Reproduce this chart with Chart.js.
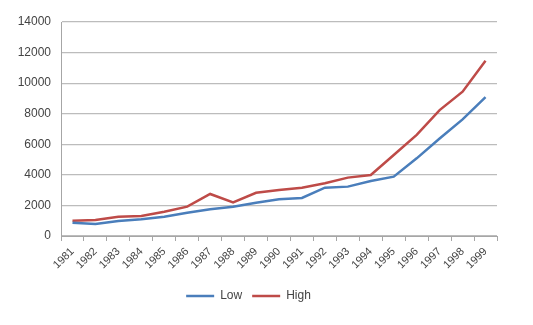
<!DOCTYPE html>
<html>
<head>
<meta charset="utf-8">
<script src="https://cdn.jsdelivr.net/npm/chart.js@4"></script>
<style>
  html, body { margin: 0; padding: 0; background: #fff; }
  #wrap { width: 533px; height: 325px; }
</style>
</head>
<body>
<div id="wrap"><canvas id="chart" width="533" height="325"></canvas></div>
<script>
// years on the x axis
const years = ['1981', '1982', '1983', '1984', '1985', '1986', '1987', '1988', '1989', '1990',
               '1991', '1992', '1993', '1994', '1995', '1996', '1997', '1998', '1999'];

// values
const lowValues  = [870, 790, 980, 1090, 1260, 1520, 1750, 1920, 2180, 2400,
                    2490, 3160, 3230, 3600, 3880, 5080, 6380, 7630, 9080];
const highValues = [1000, 1050, 1260, 1310, 1590, 1920, 2750, 2200, 2830, 3010,
                    3160, 3450, 3820, 3990, 5300, 6610, 8240, 9440, 11470];

const yMax = 14000;
const yStep = 2000;

document.addEventListener("DOMContentLoaded", function () {
    const ctx = document.getElementById('chart').getContext('2d');
    const fontFamily = 'Liberation Sans, Arial, sans-serif';

    const lineOpts = {
        borderWidth: 2.5,
        pointRadius: 0,
        tension: 0,
        fill: false
    };

    new Chart(ctx, {
        type: 'line',
        data: {
            labels: years,
            datasets: [
                { label: 'Low', data: lowValues, borderColor: '#4a7ebb', backgroundColor: '#4a7ebb', ...lineOpts },
                { label: 'High', data: highValues, borderColor: '#be4b48', backgroundColor: '#be4b48', ...lineOpts }
            ]
        },
        options: {
            responsive: false,
            animation: false,
            layout: { padding: { left: 0, right: 36, top: 22, bottom: 13 } },
            plugins: {
                tooltip: { enabled: false },
                legend: {
                    position: 'bottom',
                    labels: {
                        usePointStyle: true,
                        pointStyle: 'line',
                        pointStyleWidth: 28,
                        color: '#444',
                        font: { family: fontFamily, size: 12 },
                        padding: 10
                    }
                }
            },
            scales: {
                x: {
                    offset: true,
                    afterFit: function (axis) { axis.height = 44; },
                    grid: {
                        offset: true,
                        drawOnChartArea: false,
                        drawTicks: true,
                        tickLength: 5,
                        color: '#a6a6a6'
                    },
                    border: { color: '#a6a6a6', width: 1 },
                    ticks: {
                        minRotation: 45,
                        maxRotation: 45,
                        autoSkip: false,
                        color: '#444',
                        padding: 4,
                        font: { family: fontFamily, size: 11 }
                    }
                },
                y: {
                    min: 0,
                    max: yMax,
                    afterFit: function (axis) { axis.width = 61; },
                    grid: {
                        color: '#bcbcbc',
                        lineWidth: 1.2,
                        drawTicks: false
                    },
                    border: { color: '#a6a6a6', width: 1 },
                    ticks: {
                        stepSize: yStep,
                        padding: 10,
                        color: '#444',
                        font: { family: fontFamily, size: 12 },
                        callback: function (value) { return String(value); }
                    }
                }
            }
        }
    });
});
</script>
</body>
</html>
